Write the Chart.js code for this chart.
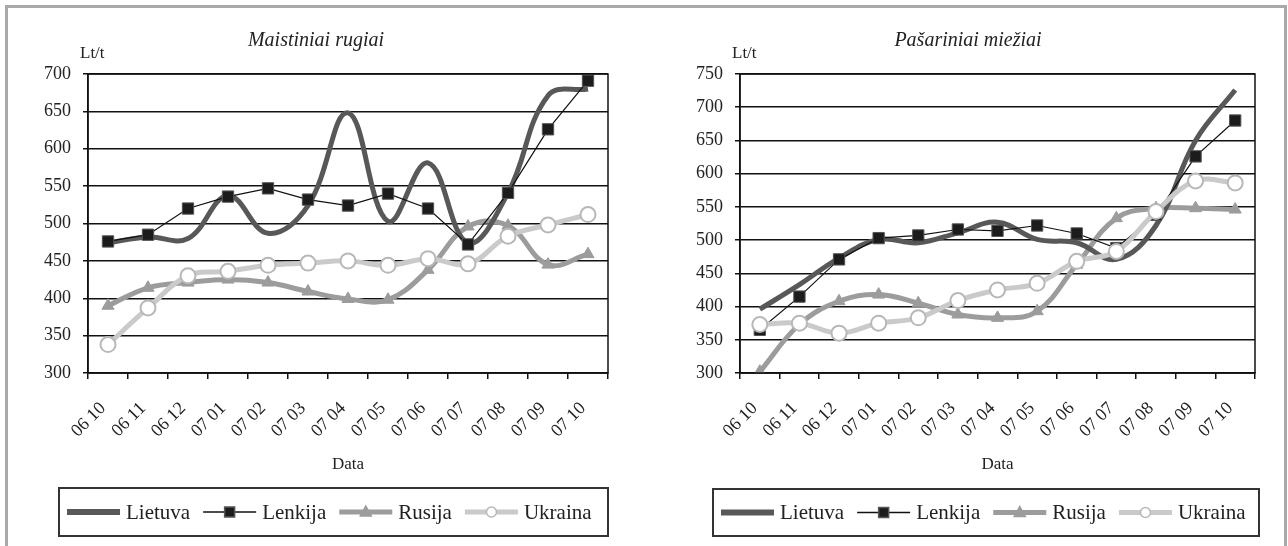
<!DOCTYPE html>
<html>
<head>
<meta charset="utf-8">
<script src="https://cdn.jsdelivr.net/npm/chart.js@4"></script>
<style>
  body { margin: 0; background: #fff; width: 1288px; height: 546px; overflow: hidden; position: relative; }
  .frame { position: absolute; left: 5px; top: 5px; width: 1276px; height: 600px; border: 3px solid #a9a9a9; }
  .wrap { position: absolute; top: 0; width: 644px; height: 546px; }
</style>
</head>
<body>
<div class="frame"></div>
<div class="wrap" style="left:0"><canvas id="ryeChart" width="644" height="546"></canvas></div>
<div class="wrap" style="left:644px"><canvas id="barleyChart" width="644" height="546"></canvas></div>
<script>
const months = ["06 10", "06 11", "06 12", "07 01", "07 02", "07 03", "07 04",
  "07 05", "07 06", "07 07", "07 08", "07 09", "07 10"];
const seriesNames = ["Lietuva", "Lenkija", "Rusija", "Ukraina"];

// Maistiniai rugiai, Lt/t
const ryeLietuva = [474, 482, 480, 537, 487, 524, 648, 503, 581, 474, 541, 671, 680];
const ryeLenkija = [476, 485, 520, 536, 547, 532, 524, 540, 520, 472, 541, 626, 691];
const ryeRusija = [390, 414, 421, 425, 421, 409, 399, 398, 438, 496, 497, 445, 459];
const ryeUkraina = [338, 387, 430, 436, 444, 447, 450, 444, 453, 446, 483, 498, 512];

// Pasariniai miezhiai, Lt/t
const barleyLietuva = [396, 433, 473, 501, 496, 511, 527, 501, 496, 471, 522, 650, 726];
const barleyLenkija = [365, 415, 471, 503, 507, 516, 514, 522, 510, 488, 538, 626, 680];
const barleyRusija = [302, 373, 408, 418, 405, 388, 383, 393, 463, 533, 548, 548, 546];
const barleyUkraina = [373, 375, 360, 375, 383, 409, 425, 435, 468, 483, 543, 589, 586];

const FONT = "'Liberation Serif', 'Times New Roman', serif";
const TEXT = "#222";

function drawMarker(ctx, style, x, y, r) {
  ctx.beginPath();
  if (style === "rect") {
    ctx.rect(x - r, y - r, 2 * r, 2 * r);
  } else if (style === "triangle") {
    ctx.moveTo(x, y - r * 1.2);
    ctx.lineTo(x + r * 1.1, y + r * 0.8);
    ctx.lineTo(x - r * 1.1, y + r * 0.8);
    ctx.closePath();
  } else {
    ctx.arc(x, y, r, 0, Math.PI * 2);
  }
  ctx.fill();
  ctx.stroke();
}

// plot frame, title, unit label and the boxed legend
const decorPlugin = {
  id: "decor",
  afterDraw(chart, args, opts) {
    const ctx = chart.ctx;
    const area = chart.chartArea;
    ctx.save();
    ctx.strokeStyle = "#111";
    ctx.lineWidth = 1.5;
    ctx.strokeRect(area.left, area.top, area.right - area.left, area.bottom - area.top);

    ctx.fillStyle = TEXT;
    ctx.textBaseline = "middle";
    ctx.textAlign = "center";
    ctx.font = "italic 20px " + FONT;
    ctx.fillText(opts.title, opts.titleX, 41);

    ctx.textAlign = "left";
    ctx.font = "17px " + FONT;
    ctx.fillText("Lt/t", area.left - 8, 54);

    // legend box
    const box = opts.legendBox;
    ctx.strokeStyle = "#333";
    ctx.lineWidth = 2;
    ctx.strokeRect(box.left, box.top, box.right - box.left, box.bottom - box.top);
    const yMid = (box.top + box.bottom) / 2;
    let x = box.left + 8;
    ctx.font = "21px " + FONT;
    chart.data.datasets.slice().sort((a, b) => a.legendIndex - b.legendIndex).forEach((ds) => {
      const w = 53;
      ctx.strokeStyle = ds.borderColor;
      ctx.lineWidth = ds.legendWidth;
      ctx.beginPath();
      ctx.moveTo(x, yMid);
      ctx.lineTo(x + w, yMid);
      ctx.stroke();
      if (ds.pointRadius > 0) {
        ctx.fillStyle = ds.pointBackgroundColor;
        ctx.strokeStyle = ds.pointBorderColor;
        ctx.lineWidth = 1.5;
        drawMarker(ctx, ds.pointStyle, x + w / 2, yMid, 5);
      }
      ctx.fillStyle = TEXT;
      ctx.fillText(ds.label, x + w + 6, yMid + 1);
      x += w + 6 + ctx.measureText(ds.label).width + 13;
    });
    ctx.restore();
  },
};

function makeDatasets(lietuva, lenkija, rusija, ukraina) {
  return [
    {
      label: seriesNames[1], data: lenkija, legendIndex: 1, order: 1,
      borderColor: "#111", borderWidth: 1.2, tension: 0, legendWidth: 1.5,
      pointStyle: "rect", pointRadius: 8, pointBackgroundColor: "#1c1c1c",
      pointBorderColor: "#555", pointBorderWidth: 1,
    },
    {
      label: seriesNames[3], data: ukraina, legendIndex: 3, order: 0,
      borderColor: "#cacaca", borderWidth: 5, tension: 0.4, legendWidth: 5,
      pointStyle: "circle", pointRadius: 7.5, pointBackgroundColor: "#fff",
      pointBorderColor: "#b8b8b8", pointBorderWidth: 2,
    },
    {
      label: seriesNames[0], data: lietuva, legendIndex: 0, order: 2,
      borderColor: "#585858", borderWidth: 5, tension: 0.4, legendWidth: 6,
      pointRadius: 0,
    },
    {
      label: seriesNames[2], data: rusija, legendIndex: 2, order: 3,
      borderColor: "#9c9c9c", borderWidth: 5, tension: 0.4, legendWidth: 5,
      pointStyle: "triangle", pointRadius: 7, pointBackgroundColor: "#9c9c9c",
      pointBorderColor: "#9c9c9c", pointBorderWidth: 1,
    },
  ];
}

function createPriceChart(canvasId, datasets, cfg) {
  const ctx = document.getElementById(canvasId).getContext("2d");
  return new Chart(ctx, {
    type: "line",
    data: { labels: months, datasets: datasets },
    plugins: [decorPlugin],
    options: {
      responsive: false,
      animation: false,
      layout: { padding: { left: 10, right: cfg.padRight, top: 74, bottom: 69 } },
      plugins: {
        legend: { display: false },
        tooltip: { enabled: false },
        decor: { title: cfg.title, titleX: cfg.titleX, legendBox: cfg.legendBox },
      },
      scales: {
        x: {
          offset: true,
          afterFit: (s) => { s.height = 104; },
          grid: { offset: true, drawOnChartArea: false, drawTicks: true, tickLength: 6, color: "#111", lineWidth: 1.5 },
          border: { display: true, color: "#111", width: 1.5 },
          ticks: { color: TEXT, font: { family: FONT, size: 18 }, minRotation: 45, maxRotation: 45,
            padding: 19, labelOffset: -5, autoSkip: false },
          title: { display: true, text: "Data", color: TEXT, font: { family: FONT, size: 17 }, padding: { top: 2, bottom: 2 } },
        },
        y: {
          min: cfg.min, max: cfg.max,
          afterFit: (s) => { s.width = cfg.yWidth; },
          grid: { color: "#111", lineWidth: 1.5, tickLength: 5 },
          border: { display: true, color: "#111", width: 1.5 },
          ticks: { stepSize: 50, color: TEXT, font: { family: FONT, size: 18 }, padding: 12 },
        },
      },
    },
  });
}

window.ryeChart = createPriceChart("ryeChart",
  makeDatasets(ryeLietuva, ryeLenkija, ryeRusija, ryeUkraina),
  { title: "Maistiniai rugiai", titleX: 316, min: 300, max: 700, yWidth: 78, padRight: 36,
    legendBox: { left: 59, top: 488, right: 608, bottom: 536 } });

window.barleyChart = createPriceChart("barleyChart",
  makeDatasets(barleyLietuva, barleyLenkija, barleyRusija, barleyUkraina),
  { title: "Pašariniai miežiai", titleX: 324, min: 300, max: 750, yWidth: 86, padRight: 33,
    legendBox: { left: 69, top: 489, right: 615, bottom: 536 } });
</script>
</body>
</html>
